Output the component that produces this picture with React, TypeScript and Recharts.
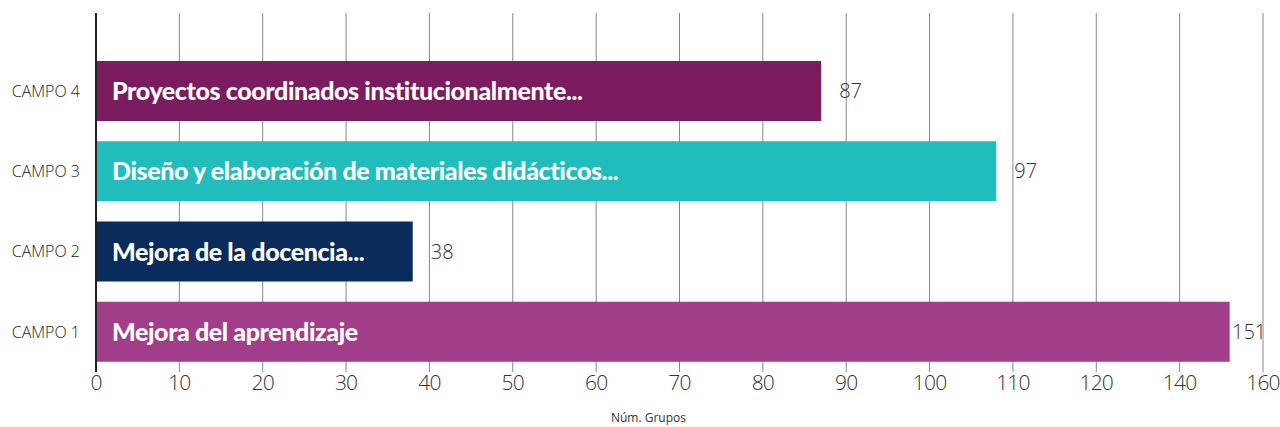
import React from "react";
import { BarChart, Bar, XAxis, YAxis, CartesianGrid, Cell, LabelList } from "recharts";

const campos = ["CAMPO 4", "CAMPO 3", "CAMPO 2", "CAMPO 1"];
const titles = [
    "Proyectos coordinados institucionalmente...",
    "Diseño y elaboración de materiales didácticos...",
    "Mejora de la docencia...",
    "Mejora del aprendizaje",
];
// numbers printed next to the bars
const grupos = [87, 97, 38, 151];
// where each bar ends, read against the drawn axis
const barLength = [87, 108, 38, 152];
const colors = ["#7b1c60", "#21bcbc", "#0a2c5c", "#a23d8a"];
// the axis is drawn evenly spaced, but the step changes from 10 to 20 after 120
const tickLabels = [0, 10, 20, 30, 40, 50, 60, 70, 80, 90, 100, 110, 120, 140, 160];

const toAxis = (v: number) => {
    for (let i = 0; i < tickLabels.length - 1; i++) {
        const a = tickLabels[i];
        const b = tickLabels[i + 1];
        if (v <= b) return i + (v - a) / (b - a);
    }
    return tickLabels.length - 1;
};

const data = campos.map((campo, i) => ({
    campo,
    title: titles[i],
    grupos: grupos[i],
    pos: toAxis(barLength[i]),
}));

const tickIndex = tickLabels.map((_, i) => i);

const TitleLabel = (props: any) => {
    const { x, y, height, value } = props;
    return (
        <text
            x={x + 16}
            y={y + height / 2}
            dy="0.36em"
            fill="#ffffff"
            fontFamily="Lato, 'Open Sans', sans-serif"
            fontWeight={900}
            fontSize={25}
            letterSpacing={-0.4}
        >
            {value}
        </text>
    );
};

const ValueLabel = (props: any) => {
    const { x, y, width, height, value } = props;
    // keep the last label inside the plot, next to the bar
    const lx = Math.min(x + width + 18, 1232);
    return (
        <text
            x={lx}
            y={y + height / 2}
            dy="0.36em"
            fill="#333333"
            fontFamily="'Open Sans', sans-serif"
            fontWeight={300}
            fontSize={20}
        >
            {value}
        </text>
    );
};

export default function App() {
    return (
        <div style={{ position: "absolute", left: 0, top: 0, width: 1280, height: 427, background: "#fff" }}>
            <BarChart
                width={1280}
                height={427}
                data={data}
                layout="vertical"
                margin={{ top: 13, right: 17, bottom: 0, left: 0 }}
            >
                <CartesianGrid horizontal={false} stroke="#888" strokeWidth={1} />
                <XAxis
                    type="number"
                    dataKey="pos"
                    domain={[0, tickLabels.length - 1]}
                    ticks={tickIndex}
                    tickFormatter={(i: number) => String(tickLabels[i])}
                    interval={0}
                    axisLine={false}
                    tickLine={false}
                    tickSize={0}
                    tickMargin={3}
                    height={55}
                    tick={{
                        fontSize: 21,
                        fill: "#333",
                        fontWeight: 300,
                        letterSpacing: -0.8,
                        fontFamily: "'Open Sans', sans-serif",
                    }}
                    label={{
                        value: "Núm. Grupos",
                        position: "insideBottom",
                        offset: 5,
                        dx: -31,
                        fontSize: 12,
                        fill: "#333",
                        fontFamily: "'Open Sans', sans-serif",
                    }}
                />
                <YAxis
                    type="category"
                    dataKey="campo"
                    width={96}
                    padding={{ top: 38, bottom: 0 }}
                    axisLine={{ stroke: "#222", strokeWidth: 2 }}
                    tickLine={false}
                    tickSize={0}
                    tickMargin={16}
                    tick={{ fontSize: 16, fill: "#222", fontWeight: 300, fontFamily: "'Open Sans', sans-serif" }}
                />
                <Bar dataKey="pos" barSize={60} isAnimationActive={false}>
                    {data.map((d, i) => (
                        <Cell key={d.campo} fill={colors[i]} />
                    ))}
                    <LabelList dataKey="title" content={TitleLabel} />
                    <LabelList dataKey="grupos" content={ValueLabel} />
                </Bar>
            </BarChart>
        </div>
    );
}
